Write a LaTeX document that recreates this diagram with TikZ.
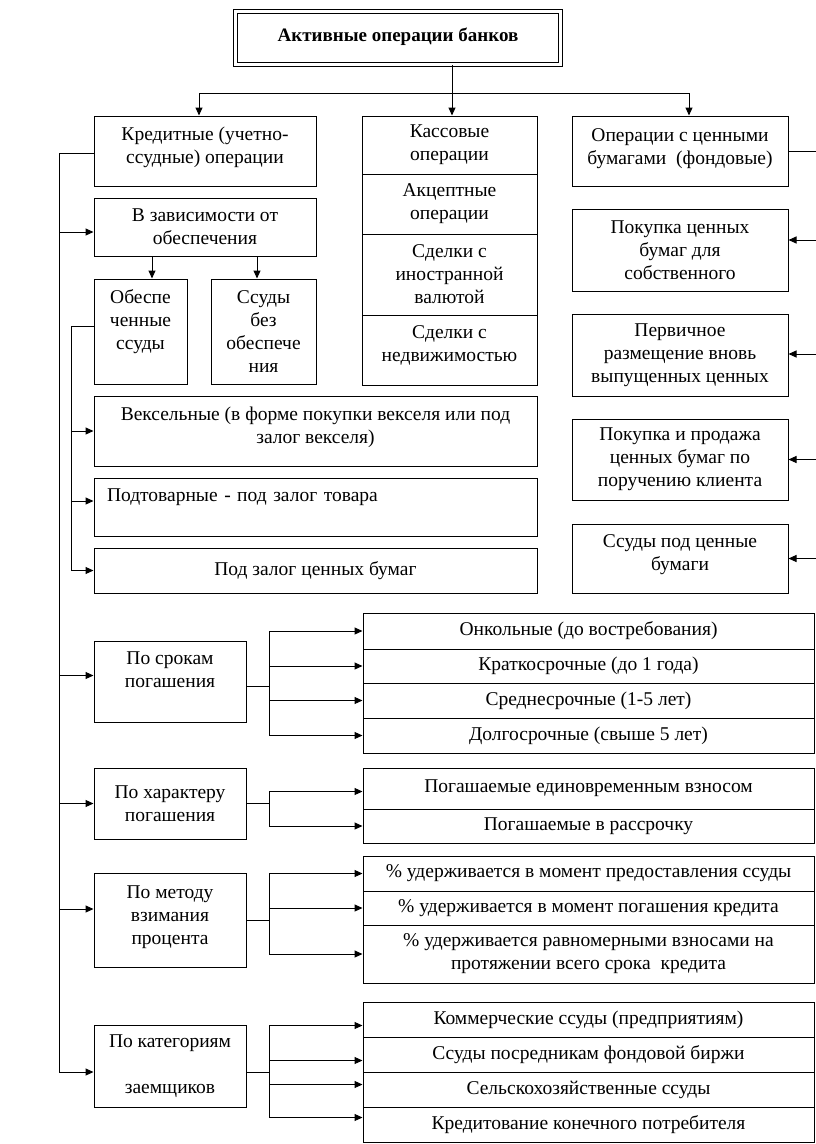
\documentclass[tikz,border=0pt]{standalone}
\usepackage{fontspec}
\setmainfont{Liberation Serif}
\usetikzlibrary{arrows.meta,calc}
\tikzset{
  box/.style={draw, line width=1pt, inner sep=0pt, align=center, font=\fontsize{19.5}{23}\selectfont},
  arr/.style={-{Triangle[length=8pt,width=7pt]}},
}
\newcommand\bx[7][]{\node[box,minimum width={#5pt-#3pt},minimum height={#6pt-#4pt},#1] (#2) at ({(#3+#5)/2},{(#4+#6)/2}) {#7};}
\begin{document}
\begin{tikzpicture}[x=1pt,y=-1pt,line width=1pt]
\useasboundingbox (0,0) rectangle (816,1144);
% title
\node[draw, double, double distance=2.5pt, line width=0.9pt, inner sep=0pt,
  minimum width=325pt, minimum height=53pt, font=\fontsize{19}{23}\selectfont\bfseries]
  (T) at (398,38) {\raisebox{7pt}{Активные операции банков}};
% top row
\bx{kred}{94}{116}{316}{186}{Кредитные (учетно-\\ссудные) операции\\[-11pt]\mbox{}}
\bx{kass}{362}{116}{537}{174}{Кассовые\\операции}
\bx{akc}{362}{174}{537}{234}{Акцептные\\операции}
\bx{val}{362}{234}{537}{315}{Сделки с\\иностранной\\валютой}
\bx{ned}{362}{315}{537}{385}{Сделки с\\недвижимостью\\[-10pt]\mbox{}}
\bx{oper}{572}{116}{788}{186}{Операции с ценными\\бумагами~ (фондовые)\\[-14pt]\mbox{}}
% left branch
\bx{zav}{94}{198}{316}{256}{В зависимости от\\обеспечения}
\bx{obes}{94}{279}{187}{384}{Обеспе\\ченные\\ссуды\\\mbox{}}
\bx{bez}{211}{279}{316}{384}{Ссуды\\без\\обеспече\\ния}
\bx{veks}{94}{396}{537}{466}{Вексельные (в форме покупки векселя или под\\залог векселя)\\[-11pt]\mbox{}}
\bx[text width=417pt, align=left]{podt}{94}{478}{537}{536}{Подтоварные - под залог товара\\\mbox{}}
\bx{zal}{94}{548}{537}{593}{Под залог ценных бумаг}
% right branch
\bx{p1}{572}{209}{788}{291}{Покупка ценных\\бумаг для\\собственного}
\bx{p2}{572}{314}{788}{396}{Первичное\\размещение вновь\\выпущенных ценных}
\bx{p3}{572}{419}{788}{500}{Покупка и продажа\\ценных бумаг по\\поручению клиента}
\bx{p4}{572}{524}{788}{593}{Ссуды под ценные\\бумаги\\[-12pt]\mbox{}}
% by term
\bx{srok}{94}{641}{246}{722}{По срокам\\погашения\\\mbox{}}
\bx{s1}{363}{613}{814}{649}{Онкольные (до востребования)}
\bx{s2}{363}{649}{814}{683}{Краткосрочные (до 1 года)}
\bx{s3}{363}{683}{814}{718}{Среднесрочные (1-5 лет)}
\bx{s4}{363}{718}{814}{753}{Долгосрочные (свыше 5 лет)}
% by repayment
\bx{har}{94}{768}{246}{839}{По характеру\\погашения}
\bx{h1}{363}{768}{814}{809}{Погашаемые единовременным взносом}
\bx{h2}{363}{809}{814}{843}{Погашаемые в рассрочку}
% by interest method
\bx{met}{94}{873}{246}{967}{По методу\\взимания\\процента\\[-13pt]\mbox{}}
\bx{m1}{363}{856}{814}{891}{\% удерживается в момент предоставления ссуды}
\bx{m2}{363}{891}{814}{925}{\% удерживается в момент погашения кредита}
\bx{m3}{363}{925}{814}{983}{\% удерживается равномерными взносами на\\протяжении всего срока~ кредита}
% by borrower
\bx{kat}{94}{1025}{246}{1107}{По категориям\\[23pt]заемщиков}
\bx{c1}{363}{1002}{814}{1037}{Коммерческие ссуды (предприятиям)}
\bx{c2}{363}{1037}{814}{1072}{Ссуды посредникам фондовой биржи}
\bx{c3}{363}{1072}{814}{1107}{Сельскохозяйственные ссуды}
\bx{c4}{363}{1107}{814}{1142}{Кредитование конечного потребителя}
% coordinates
\coordinate (br) at (452,93);
\coordinate (tr) at (59,0);
\coordinate (tr2) at (71,0);
\coordinate (rr) at (816,0);
\coordinate (b) at (269,0);
% top connectors
\draw (T.south -| br) -- (br);
\draw[arr] (br) -| ([xshift=-6pt]kred.north);
\draw[arr] (br) -- (br |- kass.north);
\draw[arr] (br) -| ([xshift=9pt]oper.north);
% main trunk
\draw ([yshift=-2pt]kred.west) -| ([yshift=-6pt]tr |- kat.west);
\draw[arr] ([yshift=-5pt]tr |- zav.west) -- ([yshift=-5pt]zav.west);
\draw[arr] ([yshift=6pt]tr |- srok.west) -- ([yshift=6pt]srok.west);
\draw[arr] (tr |- har.west) -- (har.west);
\draw[arr] ([yshift=11pt]tr |- met.west) -- ([yshift=11pt]met.west);
\draw[arr] ([yshift=-6pt]tr |- kat.west) -- ([yshift=-6pt]kat.west);
% zav to sub boxes
\draw[arr] ([xshift=-53pt]zav.south) -- ([xshift=-53pt]zav.south |- obes.north);
\draw[arr] ([xshift=52pt]zav.south) -- ([xshift=52pt]zav.south |- bez.north);
% secondary trunk
\draw ([yshift=5pt]obes.west) -| (tr2 |- zal.west);
\draw[arr] (tr2 |- veks.west) -- (veks.west);
\draw[arr] ([yshift=6pt]tr2 |- podt.west) -- ([yshift=6pt]podt.west);
\draw[arr] (tr2 |- zal.west) -- (zal.west);
% right side
\draw (oper.east) -- (rr |- oper.east);
\draw[arr] ([yshift=10pt]rr |- p1.east) -- ([yshift=10pt]p1.east);
\draw[arr] ([yshift=1pt]rr |- p2.east) -- ([yshift=1pt]p2.east);
\draw[arr] (rr |- p3.east) -- (p3.east);
\draw[arr] (rr |- p4.east) -- (p4.east);
% srok group
\draw ([yshift=-5pt]srok.east) -- ([yshift=-5pt]b |- srok.east);
\draw (b |- s1.west) -- (b |- s4.west);
\foreach \n in {s1,s2,s3,s4} \draw[arr] (b |- \n.west) -- (\n.west);
% har group
\draw (har.east) -- (b |- har.east);
\draw ([yshift=-3pt]b |- h1.west) -- (b |- h2.west);
\draw[arr] ([yshift=-3pt]b |- h1.west) -- ([yshift=-3pt]h1.west);
\draw[arr] (b |- h2.west) -- (h2.west);
% met group
\draw (met.east) -- (b |- met.east);
\draw (b |- m1.west) -- (b |- m3.west);
\foreach \n in {m1,m2,m3} \draw[arr] (b |- \n.west) -- (\n.west);
% kat group
\draw ([yshift=-6pt]kat.east) -- ([yshift=-6pt]b |- kat.east);
\draw ([yshift=-6pt]b |- c1.west) -- ([yshift=7pt]b |- c4.west);
\draw[arr] ([yshift=-6pt]b |- c1.west) -- ([yshift=-6pt]c1.west);
\draw[arr] ([yshift=-6pt]b |- c2.west) -- ([yshift=-6pt]c2.west);
\draw[arr] ([yshift=5pt]b |- c3.west) -- ([yshift=5pt]c3.west);
\draw[arr] ([yshift=7pt]b |- c4.west) -- ([yshift=7pt]c4.west);
\end{tikzpicture}
\end{document}
